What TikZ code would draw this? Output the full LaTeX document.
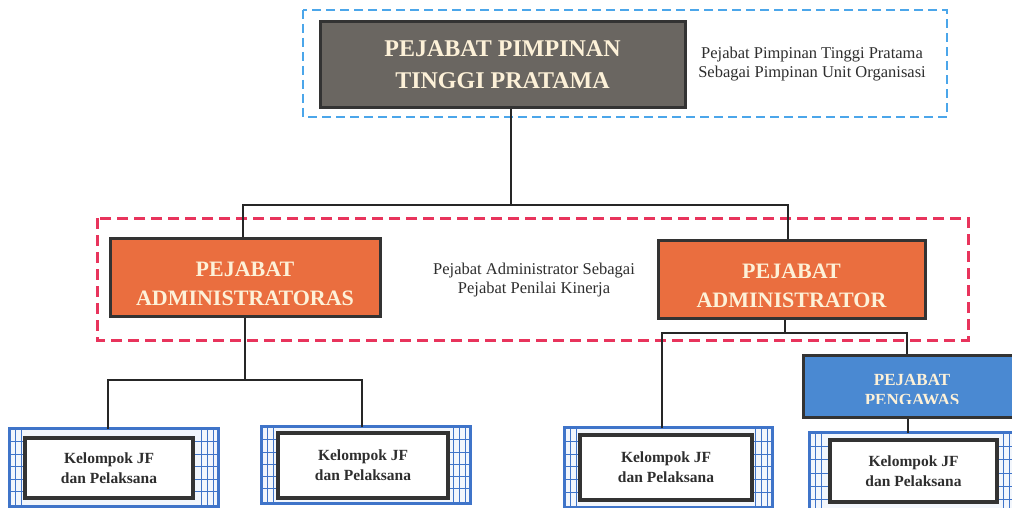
\documentclass[tikz,border=0pt]{standalone}
\usepackage{fontspec}
\setmainfont{Liberation Serif}
\usetikzlibrary{calc}
\definecolor{framegray}{HTML}{333333}
\definecolor{headgray}{HTML}{6A6661}
\definecolor{admorange}{HTML}{EA6E3F}
\definecolor{cream}{HTML}{FDF1D8}
\definecolor{dashblue}{HTML}{4BA6EA}
\definecolor{dashred}{HTML}{E8345C}
\definecolor{pengblue}{HTML}{4A89D2}
\definecolor{gridblue}{HTML}{3F74C9}
\definecolor{gridfill}{HTML}{F2F6FC}
\definecolor{inktext}{HTML}{2E2E2E}

% one staff group: blue ruled frame with a white labelled box on top
\newcommand\jfunit[7]{%
  \node[jfouter, minimum width=#3pt, minimum height=#4pt] (#1out) at (#2) {};
  \foreach \f in {0.17,0.33,0.49,0.65,0.81}
    \draw[gridline] ($(#1out.north west)!\f!(#1out.south west)$) -- ($(#1out.north east)!\f!(#1out.south east)$);
  \foreach \dx in {6,12}
    \draw[gridline] ([xshift=\dx pt]#1out.north west) -- ([xshift=\dx pt]#1out.south west);
  \foreach \dx in {5,11,17}
    \draw[gridline] ([xshift=-\dx pt]#1out.north east) -- ([xshift=-\dx pt]#1out.south east);
  \draw[gridblue, line width=2.8pt] (#1out.north west) rectangle (#1out.south east);
  \node[jfinner, minimum width=#6pt, minimum height=#7pt] (#1) at (#5) {Kelompok JF\\dan Pelaksana};
}
% invisible strut that lowers a two-line label inside its box
\newcommand\lowerstrut{\rule{0pt}{28pt}}

\begin{document}
\begin{tikzpicture}[x=1pt, y=-1pt,
  conn/.style={draw=black!85, line width=2.9pt},
  headbox/.style={draw=framegray, line width=3pt, fill=headgray, text=cream,
    inner sep=0pt, align=center, font=\fontsize{24}{32}\selectfont\bfseries},
  admbox/.style={draw=framegray, line width=3pt, fill=admorange, text=cream,
    inner sep=0pt, align=center, font=\fontsize{22}{29}\selectfont\bfseries},
  pengbox/.style={draw=framegray, line width=3pt, fill=pengblue, inner sep=0pt},
  pengtext/.style={text=cream, align=center, inner sep=0pt,
    font=\fontsize{17}{20}\selectfont\bfseries},
  note/.style={text=inktext, align=center, inner sep=0pt,
    font=\fontsize{16.5}{19.5}\selectfont},
  jfouter/.style={fill=gridfill, inner sep=0pt},
  gridline/.style={draw=gridblue, line width=1pt},
  jfinner/.style={draw=framegray, line width=3.5pt, fill=white, text=inktext,
    inner sep=0pt, align=center, font=\fontsize{15.5}{20}\selectfont\bfseries},
  blueframe/.style={draw=dashblue, line width=2.8pt, dash pattern=on 9pt off 5pt},
  redframe/.style={draw=dashred, line width=3pt, dash pattern=on 11pt off 6pt}]

\useasboundingbox (0,0) rectangle (1012,508);
\clip (0,0) rectangle (1012,508);
\fill[white] (0,0) rectangle (1012,508);

% dashed group frames
\draw[blueframe] (303,10) rectangle (947,117);
\draw[redframe] (97,218) rectangle (968,340);

% top level
\node[headbox, minimum width=365pt, minimum height=86pt] (top) at (502.5,65)
  {PEJABAT PIMPINAN\\TINGGI PRATAMA};
\node[note] (topnote) at (812,64)
  {Pejabat Pimpinan Tinggi Pratama\\Sebagai Pimpinan Unit Organisasi};

% administrator level
\node[admbox, minimum width=270pt, minimum height=78pt] (adm1) at (245,277)
  {\lowerstrut PEJABAT\\ADMINISTRATORAS};
\node[admbox, minimum width=267pt, minimum height=78pt] (adm2) at (791.5,279)
  {\lowerstrut PEJABAT\\ADMINISTRATOR};
\node[note] (admnote) at (534,280)
  {Pejabat Administrator Sebagai\\Pejabat Penilai Kinerja};

% supervisor (runs off the right edge)
\node[pengbox, minimum width=230pt, minimum height=62pt] (peng) at (918,386.5) {};
\begin{scope}
  \clip (800,356) rectangle (1012,403);
  \node[pengtext] (pengtxt) at (912,390) {PEJABAT\\PENGAWAS};
\end{scope}

% staff groups
\jfunit{jf1}{114,467.5}{208}{77}{109,468}{168}{60}
\jfunit{jf2}{366,465}{208}{76}{363,465.5}{170}{65}
\jfunit{jf3}{668.5,467.5}{207}{79}{666,467.5}{172}{65}
\jfunit{jf4}{915,474}{210}{82}{913.5,471}{167}{62}

% connectors
\coordinate (bus1) at (511,205);
\coordinate (bus2) at (245,380);
\coordinate (bus3) at (785,333);
\draw[conn] (top.south -| bus1) -- (bus1);
\draw[conn] ([xshift=-2pt]adm1.north) |- (bus1) -| ([xshift=-3.5pt]adm2.north);
\draw[conn] (adm1.south) -- (bus2);
\draw[conn] ([xshift=-6pt]jf1out.north) |- (bus2) -| ([xshift=-4pt]jf2out.north);
\draw[conn] (adm2.south -| bus3) -- (bus3);
\draw[conn] ([xshift=-6.5pt]jf3out.north) |- (bus3) -| ([xshift=-11pt]peng.north);
\draw[conn] ([xshift=-10pt]peng.south) -- ([xshift=-7pt]jf4out.north);
\end{tikzpicture}
\end{document}
